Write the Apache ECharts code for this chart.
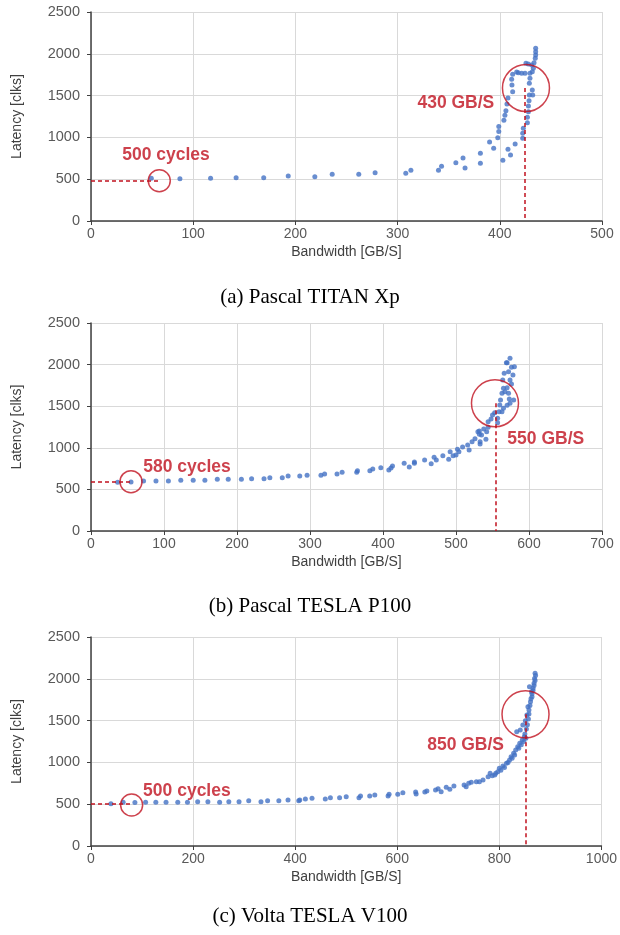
<!DOCTYPE html>
<html><head><meta charset="utf-8">
<script src="https://cdn.jsdelivr.net/npm/echarts@6/dist/echarts.min.js"></script>
<style>html,body{margin:0;padding:0;background:#fff}#c{width:620px;height:935px}</style>
</head><body><div id="c"></div>
<script>
// ---- data ----
const captions = ['(a) Pascal TITAN Xp', '(b) Pascal TESLA P100', '(c) Volta TESLA V100'];
const xMax = [500, 700, 1000];
const xStep = [100, 100, 200];
const yTicks = [0, 500, 1000, 1500, 2000, 2500];

const titanPoints = [
 [59,511],[87,506],[117,511],[142,518],[169,518],[193,538],[219,528],[236,558],[262,558],[278,577],
 [308,570],[313,606],[340,606],[343,654],[357,697],[364,754],[366,634],[381,810],[381,690],[390,945],
 [394,869],[398,996],[399,1070],[399,1130],[404,1204],[405,1265],[406,1319],[407,1399],[408,1470],
 [412.6,1547],[411.9,1627],[411.6,1695],[412.6,1754],[416.5,1782],[418.1,1774],[421.4,1766],[424.7,1766],
 [429.5,1766],[431.8,1786],[432.8,1826],[425.6,1886],[427.9,1878],[431.2,1866],[433.5,1893],[434.7,1946],
 [435.1,1985],[435.1,2025],[435.1,2065],
 [403,728],[408,857],[410.5,789],[415,921],[422.4,989],[422.4,1049],[423,1109],[427,1176],[427,1240],
 [428,1307],[428,1375],[428.6,1439],[428.9,1507],[432.2,1507],[431.8,1567],[428.9,1647],[429.5,1707]
];
const p100Points = [
 [36.5,585],[54.8,589],[72,601],[89,601],[106,601],[123,609],[140,609],[156,609],[173,621],[188,621],
 [206,621],[220,629],[237,629],[245,641],[262,641],[270,661],[286,661],[296,669],[315,669],[320,685],
 [337,685],[344,706],[364,706],[365,725],[382,725],[386,745],[397,761],[408,733],[411,757],[413,781],
 [429,814],[436,769],[443,814],[443,829],[457,853],[466,809],[470,886],[473,853],[482,905],[490,862],
 [492,953],[496,905],[500,913],[502,982],[504,953],[509,1010],[516,1034],[518,974],[522,1073],[526,1109],
 [532,1202],[532,1162],[533,1046],[533,1073],[538,1226],[541,1102],[530,1194],[535,1154],[542,1194],
 [544,1246],[544,1314],[548,1346],[550,1394],[553,1422],[557,1302],[557,1354],[559,1434],[560,1515],
 [561,1575],[563,1655],[565,1715],[564,1815],[566,1896],[572,1915],[570,2023],[574,2076],[569,2023],
 [576,1968],[580,1975],[578,1875],[574,1815],[576,1767],[570,1723],[567,1675],[572,1655],[573,1587],
 [579,1575],[574,1535],[570,1511],[565,1475],[563,1434]
];
const v100Points = [
 [39,506],[63,523],[86,519],[107,523],[127,523],[147,523],[170,523],[189,523],[209,530],[229,530],
 [252,523],[270,530],[290,530],[309,542],[333,530],[346,542],[368,542],[386,550],[407,542],[409,550],
 [420,562],[433,570],[459,562],[469,578],[487,578],[500,590],[525,578],[528,598],[546,598],[556,610],
 [582,598],[584,618],[601,618],[611,638],[636,646],[637,622],[654,646],[658,658],[675,670],[680,686],
 [686,650],[696,702],[703,678],[711,718],[731,730],[735,710],[740,750],[745,762],[755,769],[761,769],
 [768,789],[778,829],[782,869],[786,840],[791,849],[793,870],[797,889],[800,929],[803,905],[807,957],
 [810,940],[814,989],[817,1000],[820,1029],[823,1068],[825,1050],[828,1108],[830,1090],[832,1148],
 [836,1188],[838,1170],[840,1228],[843,1210],[845,1268],[848,1250],[849,1307],[852,1290],[834,1367],
 [841,1387],[850,1340],[853,1400],[846,1447],[855,1450],[851,1499],[857,1520],[854,1567],[858,1580],
 [858,1627],[856,1666],[860,1680],[861,1726],[862,1760],[864,1786],[864,1820],[863,1846],[866,1860],
 [866,1886],[859,1906],[868,1920],[868,1946],[870,1980],[869,2005],[871,2040],[870,2065]
];
const allPoints = [titanPoints, p100Points, v100Points];

// annotations (data coordinates)
const smallCircle = [[66.8,482],[54.8,593],[79.6,490]];
const cycleLineY = [482, 597, 506];
const bigCircle = [[425.6,1591],[553.4,1535],[851.3,1575]];
const bwLineX = [424.7, 555, 851];
const cycleText = ['500 cycles', '580 cycles', '500 cycles'];
const cycleTextPos = [[73.4,789],[131.5,769],[187.9,658]];
const bwText = ['430 GB/S', '550 GB/S', '850 GB/S'];
const bwTextPos = [[357,1411],[623,1106],[733.9,1208]];

// ---- layout ----
const gridTop = [12, 323, 637];
const gridH = [209, 208, 209];
const captionTop = [282, 591, 901];
const RED = '#C1121F';
const BLUE = '#4472C4';
const FONT = 'Liberation Sans';

const chart = echarts.init(document.getElementById('c'), null, {renderer:'canvas'});
const grids = [], xAxes = [], yAxes = [], series = [], titles = [];
for (let i = 0; i < 3; i++) {
  grids.push({left:91, width:511, top:gridTop[i], height:gridH[i], containLabel:false});
  xAxes.push({
    type:'value', gridIndex:i, min:0, max:xMax[i], interval:xStep[i],
    name:'Bandwidth [GB/S]', nameLocation:'middle', nameGap:24,
    nameTextStyle:{color:'#404040', fontSize:14, fontFamily:FONT},
    axisLine:{show:true, onZero:false, lineStyle:{color:'#404040', width:1.5}},
    axisTick:{show:true, length:4, lineStyle:{color:'#404040'}},
    axisLabel:{color:'#595959', fontSize:14, fontFamily:FONT, margin:6, formatter:v=>String(v)},
    splitLine:{show:true, lineStyle:{color:'#D9D9D9', width:1}}
  });
  yAxes.push({
    type:'value', gridIndex:i, min:0, max:2500, interval:500,
    name:'Latency [clks]', nameLocation:'middle', nameGap:67, nameRotate:90,
    nameTextStyle:{color:'#404040', fontSize:14, fontFamily:FONT},
    axisLine:{show:true, lineStyle:{color:'#404040', width:1.5}},
    axisTick:{show:true, length:4, lineStyle:{color:'#404040'}},
    axisLabel:{color:'#595959', fontSize:14.5, fontFamily:FONT, margin:11, formatter:v=>String(v)},
    splitLine:{show:true, lineStyle:{color:'#D9D9D9', width:1}}
  });
  series.push({
    type:'scatter', xAxisIndex:i, yAxisIndex:i, data:allPoints[i],
    symbolSize:5, itemStyle:{color:BLUE}, z:3, silent:true,
    markLine:{
      silent:true, symbol:'none', animation:false,
      lineStyle:{color:RED, type:[4,3], width:1.5},
      label:{show:false},
      data:[
        [{coord:[0, cycleLineY[i]]},{coord:[smallCircle[i][0], cycleLineY[i]]}],
        [{coord:[bwLineX[i], bigCircle[i][1]]},{coord:[bwLineX[i], 0]}]
      ]
    }
  });
  series.push({
    type:'scatter', xAxisIndex:i, yAxisIndex:i, silent:true, z:4,
    data:[
      {value:smallCircle[i], symbolSize:22},
      {value:bigCircle[i], symbolSize:47}
    ],
    itemStyle:{color:'rgba(0,0,0,0)', borderColor:RED, borderWidth:1.5}
  });
  series.push({
    type:'scatter', xAxisIndex:i, yAxisIndex:i, silent:true, z:5, symbolSize:0,
    data:[
      {value:cycleTextPos[i], name:cycleText[i]},
      {value:bwTextPos[i], name:bwText[i]}
    ],
    label:{show:true, position:'inside', formatter:p=>p.name, color:RED,
      fontSize:17.5, fontWeight:'bold', fontFamily:FONT}
  });
  titles.push({text:captions[i], left:'center', top:captionTop[i],
    textStyle:{fontFamily:'Liberation Serif', fontWeight:'normal', fontSize:21, color:'#000'}});
}
chart.setOption({animation:false, title:titles, grid:grids, xAxis:xAxes, yAxis:yAxes, series:series});
</script></body></html>
